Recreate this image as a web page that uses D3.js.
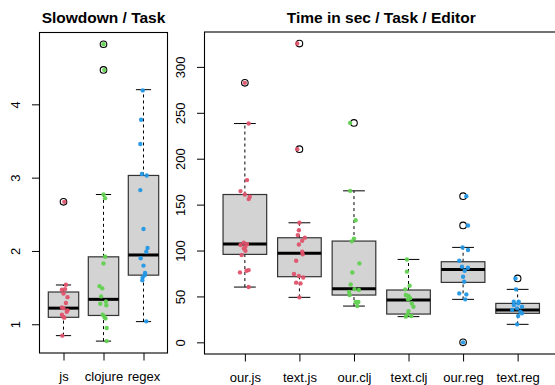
<!DOCTYPE html>
<html>
<head>
<meta charset="utf-8">
<title>Slowdown / Time boxplots</title>
<script src="https://d3js.org/d3.v7.min.js"></script>
<style>
  body { margin: 0; background: #fff; }
  text { font-family: "Liberation Sans", Arial, Helvetica, sans-serif; }
</style>
</head>
<body>
<svg width="555" height="385"></svg>
<script>
// ---- left panel: slowdown per task ----
const taskNames = ["js", "clojure", "regex"];
const taskColors = ["#DF536B", "#61D04F", "#2297E6"];
// box stats: [lower whisker, q1, median, q3, upper whisker]
const taskStats = [
  [0.845, 1.095, 1.22, 1.44, 1.536],
  [0.77, 1.12, 1.34, 1.92, 2.77],
  [1.036, 1.67, 1.945, 3.03, 4.2]
];
const taskOutliers = [[2.67], [4.82, 4.47], []];
const taskPoints = [
  [2.67, 1.54, 1.47, 1.48, 1.42, 1.37, 1.29, 1.23, 1.22, 1.19, 1.17, 1.13, 1.09, 1.10, 0.845],
  [4.82, 4.47, 2.77, 2.72, 1.92, 1.83, 1.52, 1.49, 1.38, 1.31, 1.28, 1.26, 1.13, 1.10, 1.08, 0.95, 0.77],
  [4.19, 3.79, 3.46, 3.05, 3.03, 2.83, 2.30, 2.04, 1.99, 1.90, 1.80, 1.70, 1.67, 1.64, 1.60, 1.04]
];
// horizontal jitter (category units)
const taskJitter = [
  [0.02, 0.06, -0.04, 0.04, 0.0, 0.1, 0.06, -0.04, 0.0, 0.1, 0.08, -0.04, 0.02, 0.0, -0.03],
  [0.0, 0.02, 0.0, 0.04, 0.04, 0.0, -0.1, -0.03, -0.06, 0.06, -0.08, 0.07, -0.02, 0.02, 0.05, 0.08, 0.08],
  [-0.02, -0.06, -0.08, -0.04, 0.08, -0.08, 0.0, 0.1, 0.07, -0.07, 0.0, 0.04, 0.03, -0.02, -0.03, 0.07]
];
const taskTicks = [1, 2, 3, 4];

// ---- right panel: time per task/editor ----
const editorNames = ["our.js", "text.js", "our.clj", "text.clj", "our.reg", "text.reg"];
const editorColors = ["#DF536B", "#DF536B", "#61D04F", "#61D04F", "#2297E6", "#2297E6"];
const editorStats = [
  [60.2, 95.8, 107, 161, 238.3],
  [49, 71.5, 96.9, 113.9, 130.2],
  [39.5, 51.5, 58.4, 110.3, 165],
  [28, 30.8, 46, 57, 90.3],
  [46.8, 65.3, 79.4, 87.8, 103.4],
  [19.6, 31.6, 35.2, 42.4, 57.7]
];
const editorOutliers = [[282.6], [325.4, 210.4], [239], [], [159.2, 127.3, 0], [69.6]];
const editorPoints = [
  [282.6, 238.3, 176.7, 164.7, 161, 158.5, 156, 108.5, 107, 106, 104, 102.3, 99.8, 95, 78.7, 78, 76.2, 60.2],
  [325.4, 210.4, 130.2, 122, 116.8, 114, 110.6, 106.6, 98.7, 96, 88.9, 74.4, 72.2, 70.7, 65, 64.2, 49],
  [239, 165, 133, 113, 110, 86, 76, 63, 58, 57, 55, 51.5, 44, 44, 39.5],
  [90.3, 77, 61.7, 57.7, 51.5, 50.4, 48, 46.8, 42.4, 38.8, 34, 30.5, 28.7, 28],
  [159.2, 127.3, 103.4, 100.5, 88.9, 82.3, 81.3, 78, 71.5, 66, 53.3, 52.2, 46.8, 0],
  [69.6, 57.7, 44.3, 44.3, 42.4, 40.6, 38.8, 37, 35.2, 33.4, 31.6, 28.7, 19.6]
];
const editorJitter = [
  [0.0, 0.07, 0.04, -0.08, 0.0, 0.09, 0.07, -0.02, 0.04, -0.08, 0.01, -0.02, 0.01, -0.06, 0.07, 0.03, -0.09, 0.07],
  [-0.04, -0.04, 0.0, -0.01, -0.03, 0.1, 0.05, -0.01, 0.05, 0.06, -0.06, -0.1, -0.01, 0.07, -0.06, 0.02, 0.0],
  [-0.07, -0.07, 0.03, 0.0, -0.04, 0.1, -0.03, -0.06, 0.01, 0.09, -0.09, -0.08, 0.03, 0.08, 0.06],
  [-0.03, -0.03, 0.02, -0.06, -0.05, 0.0, 0.03, -0.01, 0.06, 0.09, 0.0, -0.02, 0.05, -0.05],
  [0.06, 0.09, -0.01, 0.09, -0.07, -0.02, 0.09, 0.03, 0.0, 0.02, -0.07, 0.06, 0.04, 0.0],
  [-0.04, -0.03, -0.07, 0.02, 0.01, -0.07, 0.08, -0.01, -0.1, 0.05, 0.08, 0.01, -0.01]
];
const editorTicks = [0, 50, 100, 150, 200, 250, 300];

const svg = d3.select("svg");

function boxPanel(opt) {
  const g = svg.append("g");
  const x = d3.scaleLinear().domain(opt.xDomain).range([opt.left, opt.right]);
  const y = d3.scaleLinear().domain(opt.yDomain).range([opt.bottom, opt.top]);
  const bw = opt.boxWidth; // in category units

  // title
  g.append("text")
    .attr("x", (opt.left + opt.right) / 2).attr("y", 23)
    .attr("text-anchor", "middle")
    .attr("font-size", 15.5).attr("font-weight", "bold")
    .text(opt.title);

  opt.stats.forEach(function (s, i) {
    const cx = x(i + 1);
    const hw = x(i + 1 + bw / 2) - cx;
    const cap = hw / 2;
    // whiskers
    g.append("line").attr("x1", cx).attr("x2", cx).attr("y1", y(s[0])).attr("y2", y(s[1]))
      .attr("stroke", "#000").attr("stroke-dasharray", "3,3");
    g.append("line").attr("x1", cx).attr("x2", cx).attr("y1", y(s[3])).attr("y2", y(s[4]))
      .attr("stroke", "#000").attr("stroke-dasharray", "3,3");
    g.append("line").attr("x1", cx - cap).attr("x2", cx + cap).attr("y1", y(s[0])).attr("y2", y(s[0]))
      .attr("stroke", "#000");
    g.append("line").attr("x1", cx - cap).attr("x2", cx + cap).attr("y1", y(s[4])).attr("y2", y(s[4]))
      .attr("stroke", "#000");
    // box
    g.append("rect")
      .attr("x", cx - hw).attr("width", 2 * hw)
      .attr("y", y(s[3])).attr("height", y(s[1]) - y(s[3]))
      .attr("fill", "#D3D3D3").attr("stroke", "#333").attr("stroke-width", 1.2);
    g.append("line").attr("x1", cx - hw).attr("x2", cx + hw).attr("y1", y(s[2])).attr("y2", y(s[2]))
      .attr("stroke", "#000").attr("stroke-width", 3);
    // outliers
    g.selectAll(null).data(opt.outliers[i]).enter().append("circle")
      .attr("cx", cx).attr("cy", d => y(d)).attr("r", 3.3)
      .attr("fill", "none").attr("stroke", "#000").attr("stroke-width", 1.1);
    // jittered points
    g.selectAll(null).data(opt.points[i]).enter().append("circle")
      .attr("cx", (d, j) => x(i + 1 + opt.jitter[i][j])).attr("cy", d => y(d)).attr("r", 2.2)
      .attr("fill", opt.colors[i]).attr("fill-opacity", 0.95);
  });

  // frame
  g.append("rect")
    .attr("x", opt.left).attr("y", opt.top)
    .attr("width", opt.right - opt.left).attr("height", opt.bottom - opt.top)
    .attr("fill", "none").attr("stroke", "#000").attr("stroke-width", 1.1);

  // y axis
  const yAxis = g.append("g").attr("transform", "translate(" + opt.left + ",0)")
    .call(d3.axisLeft(y).tickValues(opt.yTicks).tickSize(7.5).tickSizeOuter(0).tickFormat(d3.format("d")));
  yAxis.select(".domain").attr("stroke", "#000")
    .attr("d", "M0," + y(opt.yTicks[0]) + "V" + y(opt.yTicks[opt.yTicks.length - 1]));
  yAxis.selectAll("text")
    .attr("font-size", 13).attr("fill", "#000")
    .attr("font-family", "Liberation Sans, Arial, sans-serif")
    .attr("text-anchor", "middle").attr("dy", 0).attr("x", 0)
    .attr("transform", "translate(" + (-19.5) + ",0) rotate(-90)");

  // x axis
  const xAxis = g.append("g").attr("transform", "translate(0," + opt.bottom + ")")
    .call(d3.axisBottom(x).tickValues(opt.names.map((d, i) => i + 1)).tickSize(7.5).tickSizeOuter(0)
      .tickFormat((d, i) => opt.names[i]));
  xAxis.select(".domain").remove();
  xAxis.selectAll("text")
    .attr("font-size", 13).attr("fill", "#000")
    .attr("font-family", "Liberation Sans, Arial, sans-serif")
    .attr("y", 27.5).attr("dy", 0);
}

boxPanel({
  title: "Slowdown / Task", names: taskNames, colors: taskColors,
  stats: taskStats, outliers: taskOutliers, points: taskPoints, jitter: taskJitter,
  xDomain: [0.4, 3.6], yDomain: [0.608, 4.98],
  left: 39.5, right: 167.5, top: 32.5, bottom: 353,
  boxWidth: 0.76, yTicks: taskTicks
});

boxPanel({
  title: "Time in sec / Task / Editor", names: editorNames, colors: editorColors,
  stats: editorStats, outliers: editorOutliers, points: editorPoints, jitter: editorJitter,
  xDomain: [0.26, 6.74], yDomain: [-12.7, 338],
  left: 204.5, right: 558, top: 32, bottom: 354,
  boxWidth: 0.8, yTicks: editorTicks
});
</script>
</body>
</html>
